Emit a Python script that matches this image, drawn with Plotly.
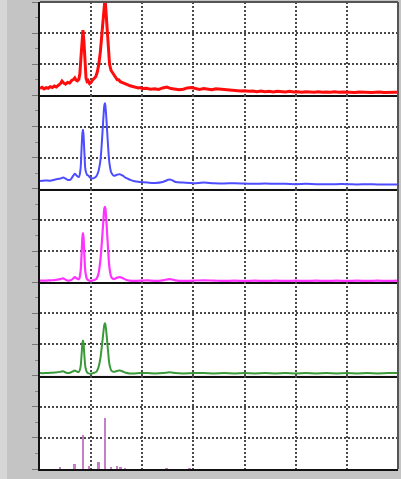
import plotly.graph_objects as go
from plotly.subplots import make_subplots

# ---- data ----
red_x = [0, 4, 8, 12, 16, 20, 24, 28, 32, 36, 40, 43, 46, 50, 54, 58, 62, 66, 68, 70, 73, 76,
         78, 80, 82, 84, 86, 88, 90, 92, 94, 97, 100, 103, 106, 109, 112, 115, 118, 121, 124,
         126, 127, 128, 130, 132, 134, 136, 139, 142, 145, 148, 151, 154, 157, 160, 164, 168,
         172, 176, 180, 184, 188, 192, 196, 200, 208, 216, 224, 232, 240, 248, 256, 264, 272,
         280, 288, 296, 304, 312, 320, 328, 336, 344, 352, 360, 368, 376, 384, 392, 400, 408,
         416, 424, 432, 440, 448, 456, 464, 472, 480, 488, 496, 504, 512, 520, 528, 536, 544,
         552, 560, 568, 576, 584, 592, 600, 608, 616, 624, 632, 640, 648, 656, 664, 672, 680,
         688, 696, 700]
red_y = [0.22, 0.26, 0.21, 0.25, 0.23, 0.28, 0.25, 0.30, 0.27, 0.33, 0.38, 0.46, 0.40, 0.36,
         0.42, 0.40, 0.48, 0.52, 0.56, 0.50, 0.47, 0.52, 0.70, 1.20, 1.80, 2.10, 1.70, 1.00,
         0.55, 0.45, 0.48, 0.38, 0.42, 0.50, 0.55, 0.60, 0.75, 1.00, 1.40, 2.00, 2.60, 3.00,
         3.10, 2.95, 2.50, 1.90, 1.40, 1.00, 0.80, 0.72, 0.62, 0.55, 0.50, 0.50, 0.44, 0.42,
         0.40, 0.36, 0.34, 0.31, 0.29, 0.27, 0.26, 0.24, 0.25, 0.22, 0.23, 0.20, 0.21, 0.19,
         0.24, 0.27, 0.22, 0.20, 0.18, 0.20, 0.24, 0.25, 0.21, 0.19, 0.22, 0.20, 0.18, 0.21,
         0.20, 0.17, 0.18, 0.15, 0.16, 0.14, 0.15, 0.13, 0.14, 0.12, 0.14, 0.12, 0.13, 0.11,
         0.13, 0.12, 0.11, 0.13, 0.11, 0.12, 0.10, 0.12, 0.11, 0.10, 0.12, 0.10, 0.11, 0.10,
         0.12, 0.10, 0.11, 0.10, 0.11, 0.09, 0.11, 0.10, 0.11, 0.09, 0.10, 0.11, 0.09, 0.10,
         0.11, 0.10, 0.10]

smooth_x = [0, 10, 20, 30, 40, 45, 50, 55, 60, 65, 68, 72, 76, 79, 81, 83, 84, 85, 87, 89,
            92, 95, 98, 102, 106, 110, 114, 118, 121, 124, 126, 127, 128, 130, 133, 136, 140,
            145, 150, 156, 162, 168, 175, 185, 195, 210, 225, 240, 254, 265, 280, 300, 320,
            340, 360, 380, 400, 420, 440, 460, 480, 500, 520, 540, 560, 580, 600, 620, 640,
            660, 680, 700]
blue_y = [0.25, 0.27, 0.26, 0.30, 0.33, 0.36, 0.33, 0.28, 0.30, 0.42, 0.48, 0.42, 0.38, 0.60,
          1.20, 1.80, 1.90, 1.75, 1.10, 0.60, 0.45, 0.42, 0.36, 0.33, 0.35, 0.40, 0.55, 0.90,
          1.50, 2.30, 2.70, 2.75, 2.65, 2.20, 1.40, 0.80, 0.50, 0.42, 0.45, 0.47, 0.42, 0.35,
          0.30, 0.24, 0.22, 0.20, 0.19, 0.22, 0.30, 0.22, 0.20, 0.18, 0.20, 0.18, 0.17, 0.18,
          0.17, 0.16, 0.17, 0.16, 0.16, 0.15, 0.16, 0.15, 0.15, 0.15, 0.15, 0.14, 0.15, 0.14,
          0.14, 0.14]
magenta_y = [0.05, 0.05, 0.06, 0.07, 0.10, 0.12, 0.08, 0.05, 0.06, 0.12, 0.16, 0.12, 0.10,
             0.30, 0.80, 1.45, 1.58, 1.45, 0.80, 0.30, 0.10, 0.06, 0.04, 0.05, 0.07, 0.10,
             0.25, 0.70, 1.30, 2.00, 2.38, 2.42, 2.35, 1.90, 1.10, 0.45, 0.15, 0.10, 0.14,
             0.16, 0.13, 0.08, 0.05, 0.04, 0.05, 0.06, 0.04, 0.06, 0.10, 0.06, 0.04, 0.05,
             0.06, 0.05, 0.04, 0.05, 0.04, 0.05, 0.04, 0.05, 0.04, 0.05, 0.04, 0.05, 0.04,
             0.05, 0.04, 0.05, 0.04, 0.05, 0.04, 0.05]
green_y = [0.08, 0.08, 0.09, 0.10, 0.12, 0.14, 0.10, 0.08, 0.10, 0.14, 0.16, 0.13, 0.12,
           0.25, 0.60, 1.05, 1.13, 1.05, 0.60, 0.25, 0.10, 0.07, 0.06, 0.07, 0.09, 0.12,
           0.25, 0.55, 0.95, 1.40, 1.65, 1.68, 1.63, 1.35, 0.80, 0.35, 0.15, 0.12, 0.15,
           0.16, 0.13, 0.09, 0.07, 0.07, 0.08, 0.08, 0.07, 0.08, 0.11, 0.08, 0.07, 0.08,
           0.08, 0.07, 0.08, 0.07, 0.08, 0.07, 0.08, 0.07, 0.08, 0.07, 0.08, 0.07, 0.08,
           0.07, 0.08, 0.07, 0.08, 0.07, 0.08, 0.08]

stick_x = [39, 68, 84, 96, 115, 127, 139, 151, 158, 166, 248, 293]
stick_y = [0.08, 0.18, 1.10, 0.10, 0.23, 1.65, 0.08, 0.10, 0.08, 0.06, 0.06, 0.04]

fig = make_subplots(rows=5, cols=1, shared_xaxes=True, vertical_spacing=0)

fig.add_trace(go.Scatter(x=red_x, y=red_y, mode="lines",
                         line=dict(color="#ff0d0d", width=3)), row=1, col=1)
fig.add_trace(go.Scatter(x=smooth_x, y=blue_y, mode="lines", line_shape="spline",
                         line=dict(color="#4d4dff", width=2)), row=2, col=1)
fig.add_trace(go.Scatter(x=smooth_x, y=magenta_y, mode="lines", line_shape="spline",
                         line=dict(color="#ff33ff", width=2.2)), row=3, col=1)
fig.add_trace(go.Scatter(x=smooth_x, y=green_y, mode="lines", line_shape="spline",
                         line=dict(color="#3a9a3a", width=2)), row=4, col=1)
fig.add_trace(go.Bar(x=stick_x, y=stick_y, width=3.5,
                     marker=dict(color="#c67ec6", line=dict(width=0))), row=5, col=1)

grid = dict(showgrid=True, gridcolor="#484848", griddash="2px,2px", gridwidth=1.6,
            zeroline=False, showticklabels=False)
for i in range(1, 6):
    fig.update_xaxes(range=[0, 700], dtick=100, showline=True, linecolor="#111",
                     linewidth=2, row=i, col=1, **grid)
    fig.update_yaxes(range=[0, 3], dtick=1, showline=True, linecolor="#111",
                     linewidth=2, ticks="outside", ticklen=6, tickcolor="#777",
                     tickwidth=1, minor=dict(dtick=0.5, ticks="outside", ticklen=3,
                                             tickcolor="#888"),
                     row=i, col=1, **grid)

fig.update_layout(
    width=401, height=479,
    margin=dict(l=40, r=3, t=2, b=10),
    paper_bgcolor="#c4c4c4",
    plot_bgcolor="white",
    showlegend=False,
    bargap=0,
    shapes=[
        dict(type="line", xref="paper", yref="paper", x0=0, x1=1, y0=1, y1=1,
             line=dict(color="#555", width=2)),
        dict(type="line", xref="paper", yref="paper", x0=1, x1=1, y0=0, y1=1,
             line=dict(color="#555", width=2)),
        dict(type="rect", xref="paper", yref="paper", x0=-40/358, x1=-33/358,
             y0=-10/467, y1=1 + 2/467, line=dict(width=0), fillcolor="#d6d6d6",
             layer="below"),
    ],
)

fig.write_html("out.html", config={"displayModeBar": False},
               post_script="document.body.style.margin='0';document.body.style.overflow='hidden';")
